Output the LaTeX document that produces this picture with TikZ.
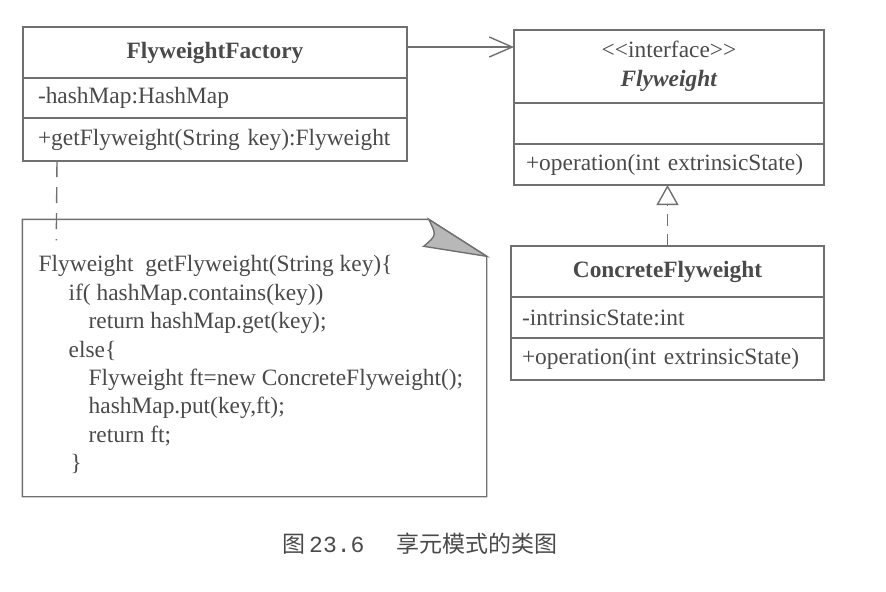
\documentclass[tikz,border=0pt]{standalone}
\usepackage{fontspec}
\setmainfont{Liberation Serif}
\newfontfamily\cjk{Noto Sans CJK SC}
\newfontfamily\capmono{Liberation Mono}
\usepackage{tikz}
\usetikzlibrary{positioning,arrows.meta}
\definecolor{linegray}{HTML}{707070}
\definecolor{textgray}{HTML}{4A4A4A}
\definecolor{foldgray}{HTML}{B8B8B8}

\begin{document}
\begin{tikzpicture}[x=0.5pt,y=-0.5pt,line width=0.7pt,
    compart/.style={draw=linegray,outer sep=0pt,inner xsep=7.5pt,inner ysep=0pt,
      text=textgray,font=\fontsize{11.7}{14.5}\selectfont},
    headbox/.style={compart,align=center},
    rowbox/.style={compart,align=left},
    assoc/.style={draw=linegray,-{Straight Barb[length=11.5pt,width=10pt]}},
    realize/.style={draw=linegray,dash pattern=on 6pt off 4pt,
      -{Triangle[open,length=10pt,width=11pt]}},
    tie/.style={draw=linegray,dash pattern=on 8pt off 5pt}]
  \useasboundingbox (0,0) rectangle (886,591);

  % FlyweightFactory
  \node[headbox,minimum width=192pt,minimum height=25.5pt] (ftitle) at (215,52.5)
    {\textbf{FlyweightFactory}};
  \node[rowbox,text width=177pt,minimum height=20pt,below=0pt of ftitle] (fattr)
    {-hashMap:HashMap};
  \node[rowbox,text width=177pt,minimum height=21.5pt,below=0pt of fattr] (fops)
    {+getFlyweight(String key):Flyweight};

  % Flyweight interface
  \node[headbox,minimum width=155pt,minimum height=36.5pt] (ititle) at (669,66.5)
    {<\kern0pt<interface>\kern0pt>\\\textbf{\textit{Flyweight}}};
  \node[rowbox,inner xsep=6pt,text width=143pt,minimum height=20.5pt,below=0pt of ititle] (iattr) {};
  \node[rowbox,inner xsep=6pt,text width=143pt,minimum height=20.5pt,below=0pt of iattr] (iops)
    {+operation(int extrinsicState)};

  % ConcreteFlyweight
  \node[headbox,minimum width=156.5pt,minimum height=25.5pt] (ctitle) at (667.5,271.5)
    {\textbf{ConcreteFlyweight}};
  \node[rowbox,inner xsep=5.5pt,text width=145.5pt,minimum height=20.5pt,below=0pt of ctitle] (cattr)
    {-intrinsicState:int};
  \node[rowbox,inner xsep=5.5pt,text width=145.5pt,minimum height=21pt,below=0pt of cattr] (cops)
    {+operation(int extrinsicState)};

  % note with folded corner
  \node[minimum width=231.5pt,minimum height=138pt,inner sep=0pt] (note) at (254.5,358) {};
  \draw[linegray] (note.south west) -- (note.north west) -- ([xshift=-29pt]note.north east)
    -- ([yshift=-18.5pt]note.north east) -- (note.south east) -- cycle;
  \filldraw[draw=linegray,fill=foldgray] ([xshift=-29pt]note.north east)
    .. controls ([xshift=-25pt,yshift=-8pt]note.north east) .. ([xshift=-31.5pt,yshift=-13.5pt]note.north east)
    -- ([yshift=-18.5pt]note.north east) -- cycle;
  \node[anchor=north west,inner sep=0pt,align=left,text=textgray,
    font=\fontsize{11.7}{14.2}\selectfont] (code) at (38,255)
    {Flyweight\ \ getFlyweight(String key)\{\\
     \hspace*{15pt}if( hashMap.contains(key))\\
     \hspace*{25pt}return hashMap.get(key);\\
     \hspace*{15pt}else\{\\
     \hspace*{25pt}Flyweight ft=new ConcreteFlyweight();\\
     \hspace*{25pt}hashMap.put(key,ft);\\
     \hspace*{25pt}return ft;\\
     \hspace*{16pt}\}};

  % connectors
  \draw[assoc] ([yshift=2.75pt]ftitle.east) -- ([yshift=2.75pt]ftitle.east -| ititle.west);
  \draw[realize] (ctitle.north) -- (ctitle.north |- iops.south);
  \draw[tie] ([xshift=17pt]fops.south west) -- ([xshift=17pt,yshift=-10.5pt]note.north west);

  % caption
  \node[text=textgray,font=\fontsize{11.5}{14}\selectfont] (caption) at (420,544)
    {\cjk 图\,{\capmono 23.6}\hspace{1.4em}享元模式的类图};
\end{tikzpicture}
\end{document}
